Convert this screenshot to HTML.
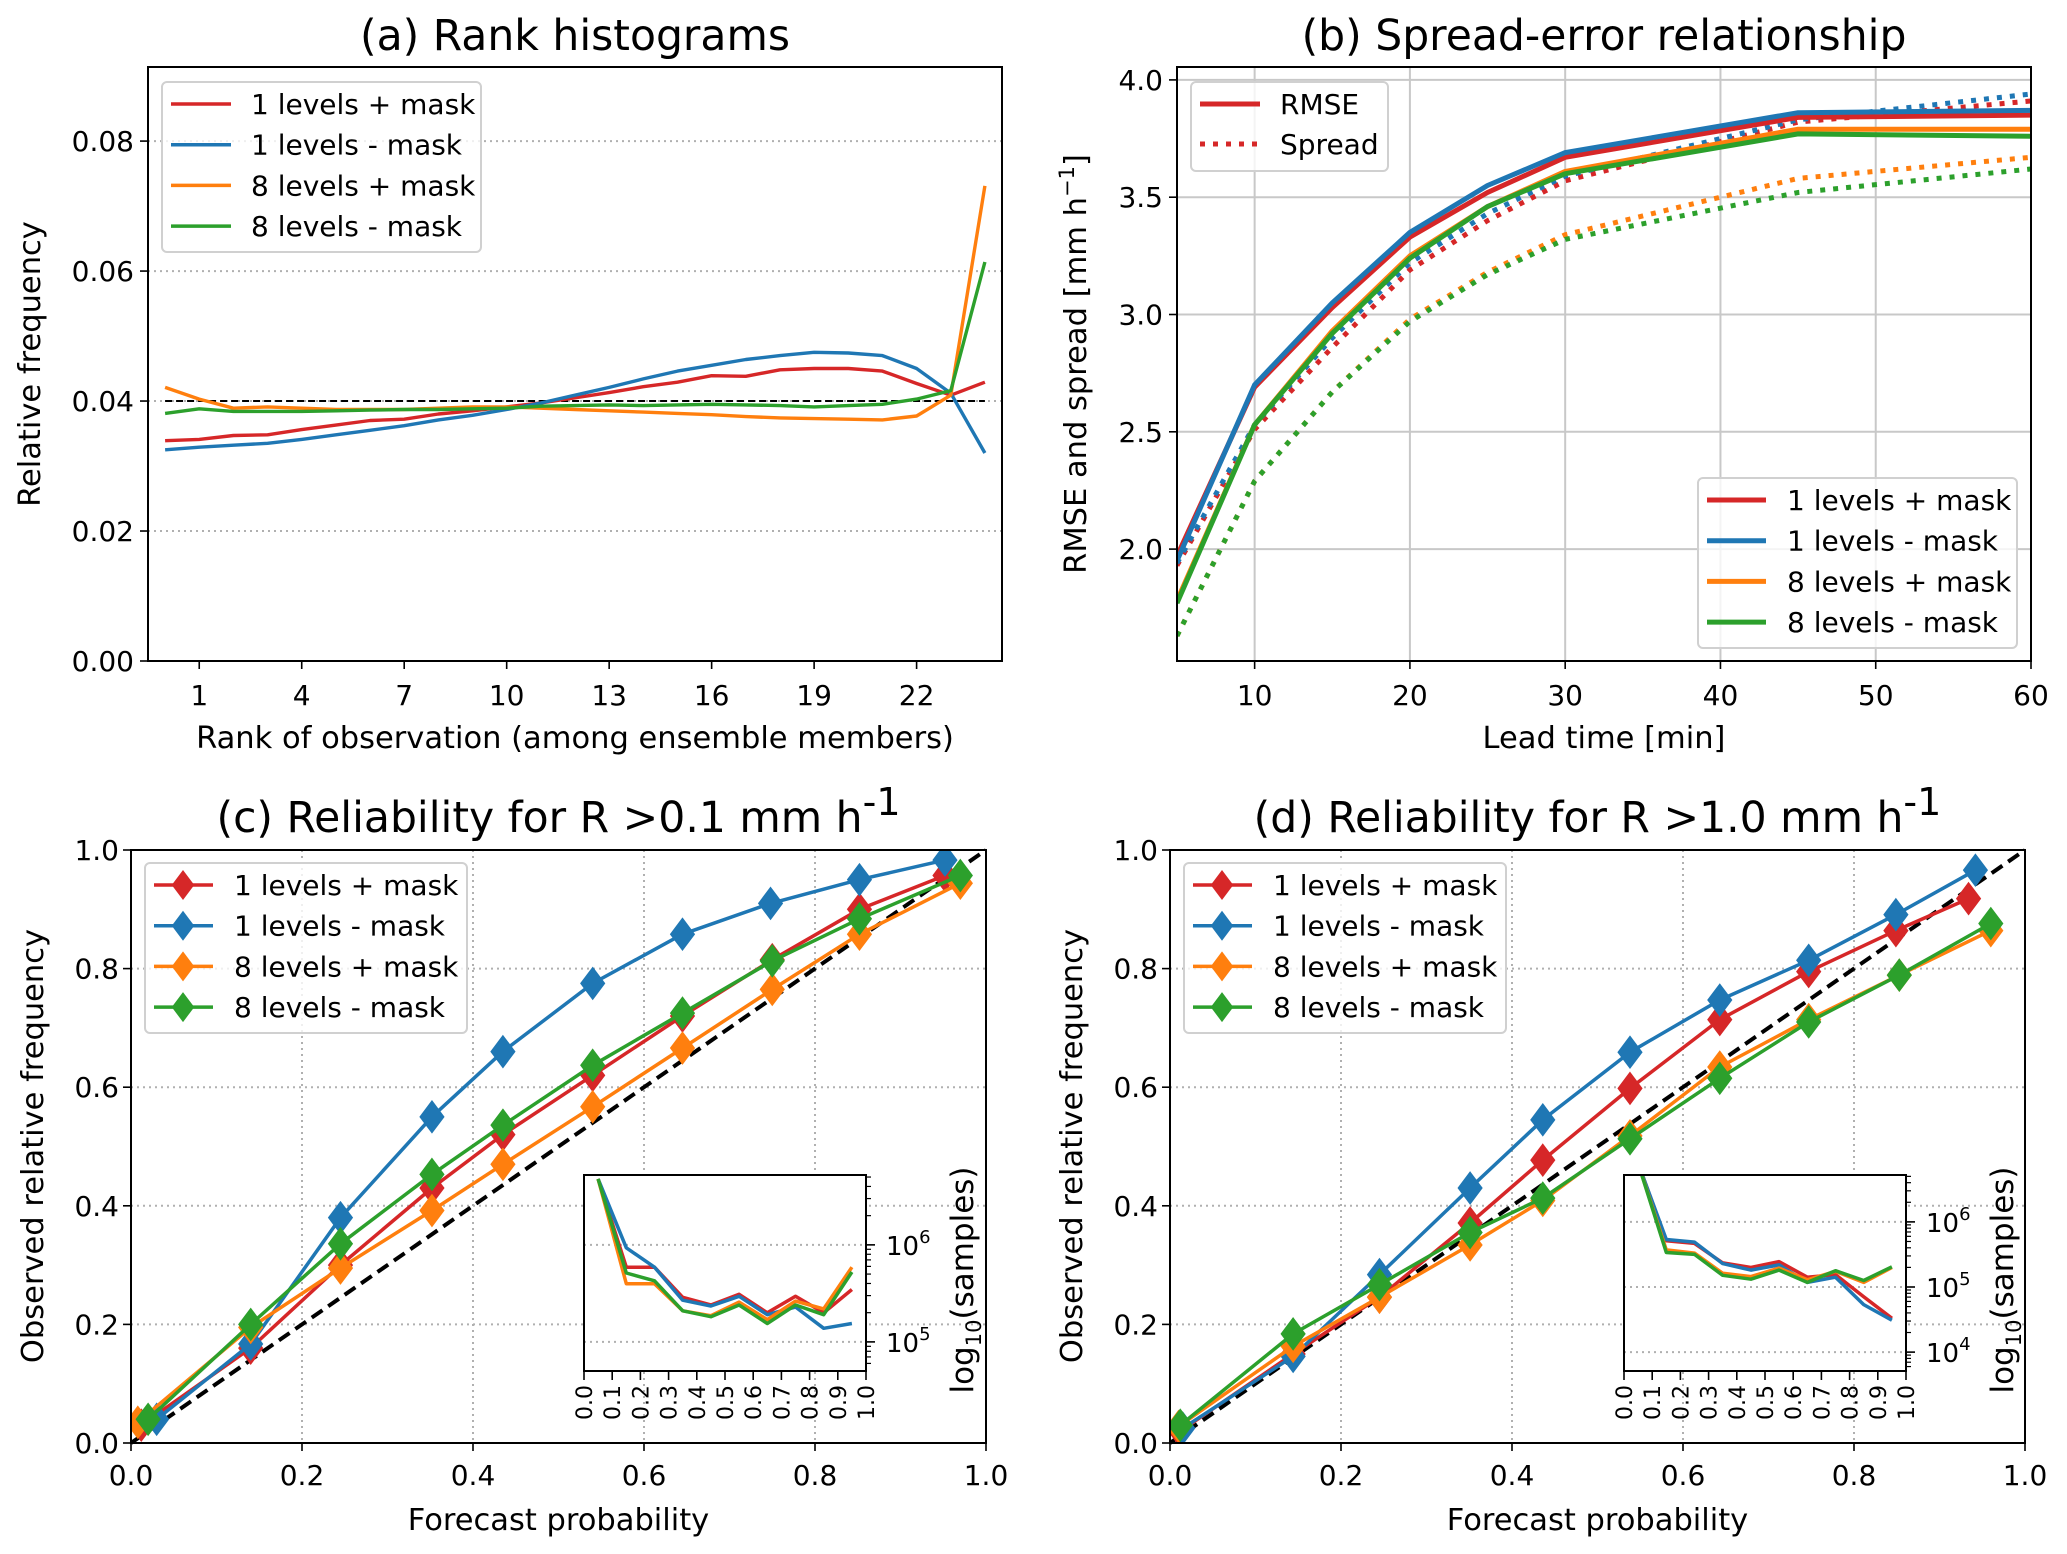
<!DOCTYPE html>
<html><head><meta charset="utf-8"><style>
html,body{margin:0;padding:0;background:#fff;}
svg{display:block;font-family:"DejaVu Sans","Liberation Sans",sans-serif;}
</style></head><body>
<svg id="fig" width="2067" height="1554" viewBox="0 0 2067 1554" xmlns="http://www.w3.org/2000/svg">
<defs>
<clipPath id="clipA"><rect x="148" y="67" width="854" height="594"/></clipPath>
<clipPath id="clipB"><rect x="1177" y="67" width="854" height="594"/></clipPath>
<clipPath id="clipC"><rect x="131" y="850" width="855" height="593"/></clipPath>
<clipPath id="clipD"><rect x="1170" y="850" width="855" height="593"/></clipPath>
<clipPath id="clipCI"><rect x="584" y="1175" width="282" height="196"/></clipPath>
<clipPath id="clipDI"><rect x="1624" y="1175" width="282" height="196"/></clipPath>
</defs>
</svg>
<script>
// ---------- Data ----------
const seriesNames = ["1 levels + mask","1 levels - mask","8 levels + mask","8 levels - mask"];
const colors = ["#d62728","#1f77b4","#ff7f0e","#2ca02c"];

// (a) rank histograms
const ranks = [0,1,2,3,4,5,6,7,8,9,10,11,12,13,14,15,16,17,18,19,20,21,22,23,24];
const rankRed = [0.0339,0.0341,0.0347,0.0348,0.0356,0.0363,0.0370,0.0372,0.0380,0.0385,0.0391,0.0397,0.0405,0.0413,0.0422,0.0429,0.0439,0.0438,0.0448,0.0450,0.0450,0.0446,0.0427,0.0409,0.0429];
const rankBlue = [0.0325,0.0329,0.0332,0.0335,0.0341,0.0348,0.0355,0.0362,0.0371,0.0378,0.0387,0.0397,0.0409,0.0421,0.0434,0.0446,0.0455,0.0464,0.0470,0.0475,0.0474,0.0470,0.0450,0.0412,0.0320];
const rankOrange = [0.0421,0.0403,0.0389,0.0391,0.0389,0.0387,0.0387,0.0387,0.0389,0.0391,0.0391,0.0389,0.0387,0.0385,0.0383,0.0381,0.0379,0.0376,0.0374,0.0373,0.0372,0.0371,0.0377,0.0409,0.0731];
const rankGreen = [0.0381,0.0388,0.0384,0.0384,0.0384,0.0385,0.0386,0.0387,0.0387,0.0388,0.0389,0.0392,0.0393,0.0394,0.0393,0.0394,0.0395,0.0394,0.0393,0.0391,0.0393,0.0395,0.0403,0.0416,0.0614];
const rankYTicks = [0,0.02,0.04,0.06,0.08];
const rankYLabels = ["0.00","0.02","0.04","0.06","0.08"];
const rankXTicks = [1,4,7,10,13,16,19,22];

// (b) spread-error
const leadTimes = [5,10,15,20,25,30,45,60];
const rmseRed = [1.97,2.69,3.03,3.33,3.52,3.67,3.84,3.85];
const rmseBlue = [1.95,2.70,3.05,3.35,3.55,3.69,3.86,3.87];
const rmseOrange = [1.78,2.53,2.93,3.25,3.46,3.61,3.79,3.79];
const rmseGreen = [1.77,2.53,2.92,3.24,3.46,3.60,3.77,3.76];
const spreadRed = [1.93,2.51,2.86,3.19,3.40,3.57,3.82,3.91];
const spreadBlue = [1.94,2.53,2.90,3.22,3.43,3.59,3.83,3.94];
const spreadOrange = [1.63,2.29,2.67,2.98,3.18,3.34,3.58,3.67];
const spreadGreen = [1.63,2.29,2.67,2.97,3.17,3.32,3.52,3.62];
const leadXTicks = [10,20,30,40,50,60];
const rmseYTicks = [2.0,2.5,3.0,3.5,4.0];
const rmseYLabels = ["2.0","2.5","3.0","3.5","4.0"];

// (c) reliability R>0.1
const relCxRed = [0.012,0.14,0.245,0.352,0.435,0.54,0.645,0.75,0.852,0.952];
const relCyRed = [0.03,0.16,0.30,0.43,0.52,0.62,0.72,0.815,0.90,0.957];
const relCxBlue = [0.03,0.14,0.245,0.352,0.435,0.54,0.645,0.748,0.852,0.952];
const relCyBlue = [0.04,0.167,0.38,0.55,0.66,0.775,0.858,0.91,0.95,0.983];
const relCxOrange = [0.008,0.14,0.245,0.352,0.435,0.54,0.645,0.75,0.852,0.97];
const relCyOrange = [0.035,0.195,0.295,0.392,0.47,0.567,0.666,0.765,0.858,0.944];
const relCxGreen = [0.02,0.14,0.245,0.352,0.435,0.54,0.645,0.75,0.852,0.97];
const relCyGreen = [0.04,0.20,0.336,0.453,0.536,0.637,0.725,0.813,0.884,0.957];

// (d) reliability R>1.0
const relDxRed = [0.012,0.144,0.245,0.351,0.436,0.538,0.643,0.747,0.849,0.934];
const relDyRed = [0.02,0.15,0.246,0.371,0.477,0.598,0.714,0.795,0.864,0.918];
const relDxBlue = [0.015,0.144,0.245,0.351,0.436,0.538,0.643,0.747,0.849,0.942];
const relDyBlue = [0.025,0.146,0.284,0.43,0.545,0.659,0.747,0.814,0.891,0.966];
const relDxOrange = [0.01,0.144,0.245,0.351,0.436,0.538,0.643,0.747,0.853,0.96];
const relDyOrange = [0.028,0.163,0.246,0.334,0.409,0.518,0.634,0.714,0.789,0.864];
const relDxGreen = [0.012,0.144,0.245,0.351,0.436,0.538,0.643,0.747,0.853,0.96];
const relDyGreen = [0.03,0.184,0.267,0.355,0.413,0.513,0.615,0.71,0.789,0.876];
const probTicks = [0,0.2,0.4,0.6,0.8,1.0];
const probLabels = ["0.0","0.2","0.4","0.6","0.8","1.0"];

// insets: log10(samples) per probability bin
const binCenters = [0.05,0.15,0.25,0.35,0.45,0.55,0.65,0.75,0.85,0.95];
const sampCRed = [6.68,5.77,5.77,5.46,5.38,5.49,5.30,5.47,5.30,5.54];
const sampCBlue = [6.68,5.97,5.77,5.43,5.37,5.47,5.28,5.36,5.14,5.19];
const sampCOrange = [6.68,5.60,5.60,5.32,5.27,5.41,5.23,5.42,5.34,5.77];
const sampCGreen = [6.68,5.71,5.63,5.32,5.26,5.38,5.19,5.38,5.28,5.72];
const sampDRed = [6.9,5.71,5.67,5.37,5.30,5.39,5.15,5.19,4.85,4.52];
const sampDBlue = [6.9,5.73,5.69,5.36,5.26,5.34,5.07,5.15,4.73,4.49];
const sampDOrange = [6.9,5.57,5.52,5.21,5.16,5.29,5.11,5.24,5.07,5.30];
const sampDGreen = [6.9,5.53,5.50,5.18,5.12,5.26,5.07,5.25,5.10,5.31];
const insetXTicks = [0,0.1,0.2,0.3,0.4,0.5,0.6,0.7,0.8,0.9,1.0];
const insetXLabels = ["0.0","0.1","0.2","0.3","0.4","0.5","0.6","0.7","0.8","0.9","1.0"];
const insetCDecades = [5,6];
const insetDDecades = [4,5,6];

// ---------- helpers ----------
const NS = "http://www.w3.org/2000/svg";
const svg = document.getElementById("fig");
function mk(tag, attrs, parent){
  const el = document.createElementNS(NS, tag);
  for (const k in attrs) el.setAttribute(k, attrs[k]);
  (parent||svg).appendChild(el);
  return el;
}
function txt(str, attrs, parent){
  const t = mk("text", attrs, parent);
  t.textContent = str;
  return t;
}
function lin(d0,d1,p0,p1){ return v => p0 + (v-d0)/(d1-d0)*(p1-p0); }
function pathD(xs, ys, fx, fy){
  return xs.map((x,i)=>(i?"L":"M")+fx(x).toFixed(1)+","+fy(ys[i]).toFixed(1)).join(" ");
}
function diamond(cx, cy, r){
  return "M"+cx+","+(cy-r)+" L"+(cx+r*0.75)+","+cy+" L"+cx+","+(cy+r)+" L"+(cx-r*0.75)+","+cy+" Z";
}
const FS = 28;
const LFS = 30.5;
const TFS = 42.5;

// ---------- Panel A ----------
const A = {x0:148,x1:1002,y0:67,y1:661};
const ax = lin(-0.5,24.5,A.x0,A.x1), ay = lin(0,0.0914,A.y1,A.y0);
const gA = mk("g",{});


rankYTicks.forEach((v,i)=>{
  if (v>0){
    const g = mk("line",{x1:A.x0,x2:A.x1,y1:ay(v),y2:ay(v),stroke:"#b0b0b0","stroke-width":2,"stroke-dasharray":"2,4"},gA);
    
    
  }
  mk("line",{x1:A.x0-8,x2:A.x0,y1:ay(v),y2:ay(v),stroke:"#000","stroke-width":1.6},gA);
  const t = txt(rankYLabels[i],{x:A.x0-14,y:ay(v)+10,"text-anchor":"end","font-size":FS},gA);
  
  
});
rankXTicks.forEach(v=>{
  mk("line",{x1:ax(v),x2:ax(v),y1:A.y1,y2:A.y1+8,stroke:"#000","stroke-width":1.6},gA);
  const t = txt(String(v),{x:ax(v),y:A.y1+44,"text-anchor":"middle","font-size":FS},gA);
  
  
});
const refA = mk("line",{x1:ax(0),x2:ax(24),y1:ay(0.04),y2:ay(0.04),stroke:"#000","stroke-width":2,"stroke-dasharray":"7,4"},gA);


[rankRed,rankBlue,rankOrange,rankGreen].forEach((ys,i)=>{
  const p = mk("path",{d:pathD(ranks,ys,ax,ay),fill:"none",stroke:colors[i],"stroke-width":3.4,"clip-path":"url(#clipA)","stroke-linejoin":"round"},gA);
  
  
});
mk("rect",{x:A.x0,y:A.y0,width:A.x1-A.x0,height:A.y1-A.y0,fill:"none",stroke:"#000","stroke-width":2},gA);
const tA = txt("(a) Rank histograms",{x:575,y:50,"text-anchor":"middle","font-size":TFS},gA);


const xlA = txt("Rank of observation (among ensemble members)",{x:575,y:748,"text-anchor":"middle","font-size":LFS},gA);


const ylA = txt("Relative frequency",{x:0,y:0,"text-anchor":"middle","font-size":LFS,transform:"translate(40,364) rotate(-90)"},gA);


// legend A
const lgA = mk("g",{},gA);


mk("rect",{x:162,y:82,width:319,height:170,rx:5,fill:"#fff","fill-opacity":0.8,stroke:"#d0d0d0","stroke-width":2},lgA);
seriesNames.forEach((n,i)=>{
  const y = 104+i*40.7;
  mk("line",{x1:171,x2:231,y1:y,y2:y,stroke:colors[i],"stroke-width":3.5},lgA);
  const t = txt(n,{x:251,y:y+10,"font-size":FS},lgA);
  
  
});

// ---------- Panel B ----------
const B = {x0:1177,x1:2031,y0:67,y1:661};
const bx = lin(5,60,B.x0,B.x1), by = lin(1.523,4.055,B.y1,B.y0);
const gB = mk("g",{});


rmseYTicks.forEach((v,i)=>{
  const g = mk("line",{x1:B.x0,x2:B.x1,y1:by(v),y2:by(v),stroke:"#c8c8c8","stroke-width":2},gB);
  
  
  mk("line",{x1:B.x0-8,x2:B.x0,y1:by(v),y2:by(v),stroke:"#000","stroke-width":1.6},gB);
  const t = txt(rmseYLabels[i],{x:B.x0-14,y:by(v)+10,"text-anchor":"end","font-size":FS},gB);
  
  
});
leadXTicks.forEach(v=>{
  const g = mk("line",{x1:bx(v),x2:bx(v),y1:B.y0,y2:B.y1,stroke:"#c8c8c8","stroke-width":2},gB);
  
  
  mk("line",{x1:bx(v),x2:bx(v),y1:B.y1,y2:B.y1+8,stroke:"#000","stroke-width":1.6},gB);
  const t = txt(String(v),{x:bx(v),y:B.y1+44,"text-anchor":"middle","font-size":FS},gB);
  
  
});
[spreadRed,spreadBlue,spreadOrange,spreadGreen].forEach((ys,i)=>{
  const p = mk("path",{d:pathD(leadTimes,ys,bx,by),fill:"none",stroke:colors[i],"stroke-width":5,"stroke-dasharray":"5,8","clip-path":"url(#clipB)"},gB);
  
  
});
[rmseRed,rmseBlue,rmseOrange,rmseGreen].forEach((ys,i)=>{
  const p = mk("path",{d:pathD(leadTimes,ys,bx,by),fill:"none",stroke:colors[i],"stroke-width":5,"clip-path":"url(#clipB)","stroke-linejoin":"round"},gB);
  
  
});
mk("rect",{x:B.x0,y:B.y0,width:B.x1-B.x0,height:B.y1-B.y0,fill:"none",stroke:"#000","stroke-width":2},gB);
const tB = txt("(b) Spread-error relationship",{x:1604,y:50,"text-anchor":"middle","font-size":TFS},gB);


const xlB = txt("Lead time [min]",{x:1604,y:748,"text-anchor":"middle","font-size":LFS},gB);


const ylB = mk("text",{"text-anchor":"middle","font-size":LFS,transform:"translate(1086,364) rotate(-90)"},gB);


ylB.appendChild(document.createTextNode("RMSE and spread [mm h"));
const sup = mk("tspan",{dy:-12,"font-size":21},ylB); sup.textContent="\u22121";
const sup2 = mk("tspan",{dy:12},ylB); sup2.textContent="]";
// legend B1
const lgB1 = mk("g",{},gB);


mk("rect",{x:1191,y:82,width:197,height:89,rx:5,fill:"#fff","fill-opacity":0.8,stroke:"#d0d0d0","stroke-width":2},lgB1);
mk("line",{x1:1200,x2:1260,y1:104,y2:104,stroke:colors[0],"stroke-width":5},lgB1);
mk("line",{x1:1200,x2:1262,y1:144,y2:144,stroke:colors[0],"stroke-width":5,"stroke-dasharray":"5,8"},lgB1);
const lb1 = txt("RMSE",{x:1280,y:114,"font-size":FS},lgB1);


const lb2 = txt("Spread",{x:1280,y:154,"font-size":FS},lgB1);


// legend B2
const lgB2 = mk("g",{},gB);


mk("rect",{x:1698,y:478,width:319,height:170,rx:5,fill:"#fff","fill-opacity":0.8,stroke:"#d0d0d0","stroke-width":2},lgB2);
seriesNames.forEach((n,i)=>{
  const y = 500+i*40.7;
  mk("line",{x1:1707,x2:1766,y1:y,y2:y,stroke:colors[i],"stroke-width":5},lgB2);
  const t = txt(n,{x:1787,y:y+10,"font-size":FS},lgB2);
  
  
});

// ---------- Reliability panels ----------
function relPanel(P, clip, xsArr, ysArr, title, label, insetP, insetClip, sampArr, decades, ymin, ymax, pname){
  const fx = lin(0,1,P.x0,P.x1), fy = lin(0,1,P.y1,P.y0);
  const g = mk("g",{});
  
  
  probTicks.forEach((v,i)=>{
    if (v>0 && v<1){
      const gx = mk("line",{x1:fx(v),x2:fx(v),y1:P.y0,y2:P.y1,stroke:"#b0b0b0","stroke-width":2,"stroke-dasharray":"2,4"},g);
      
      
      const gy = mk("line",{x1:P.x0,x2:P.x1,y1:fy(v),y2:fy(v),stroke:"#b0b0b0","stroke-width":2,"stroke-dasharray":"2,4"},g);
      
      
    }
    mk("line",{x1:P.x0-8,x2:P.x0,y1:fy(v),y2:fy(v),stroke:"#000","stroke-width":1.6},g);
    mk("line",{x1:fx(v),x2:fx(v),y1:P.y1,y2:P.y1+8,stroke:"#000","stroke-width":1.6},g);
    const ty = txt(probLabels[i],{x:P.x0-12,y:fy(v)+10,"text-anchor":"end","font-size":FS},g);
    
    
    const tx = txt(probLabels[i],{x:fx(v),y:P.y1+42,"text-anchor":"middle","font-size":FS},g);
    
    
  });
  const diag = mk("line",{x1:fx(0),y1:fy(0),x2:fx(1),y2:fy(1),stroke:"#000","stroke-width":4,"stroke-dasharray":"13,7"},g);
  
  
  xsArr.forEach((xs,i)=>{
    const ys = ysArr[i];
    const sg = mk("g",{"clip-path":"url(#"+clip+")"},g);
    
    
    mk("path",{d:pathD(xs,ys,fx,fy),fill:"none",stroke:colors[i],"stroke-width":3.5,"stroke-linejoin":"round"},sg);
    xs.forEach((x,j)=>{
      const m = mk("path",{d:diamond(fx(x),fy(ys[j]),16),fill:colors[i],stroke:colors[i],"stroke-width":1},sg);
      
      
    });
  });
  mk("rect",{x:P.x0,y:P.y0,width:P.x1-P.x0,height:P.y1-P.y0,fill:"none",stroke:"#000","stroke-width":2},g);
  const cx = (P.x0+P.x1)/2;
  const t = mk("text",{x:cx,y:832,"text-anchor":"middle","font-size":TFS},g);
  
  
  t.appendChild(document.createTextNode(title));
  const ts = mk("tspan",{dy:-17,"font-size":38},t); ts.textContent="-1";
  const xl = txt("Forecast probability",{x:cx,y:1530,"text-anchor":"middle","font-size":LFS},g);
  
  
  const yl = txt("Observed relative frequency",{"text-anchor":"middle","font-size":LFS,transform:"translate("+(P.x0-88)+",1146) rotate(-90)"},g);
  
  
  // legend
  const lg = mk("g",{},g);
  
  
  const lx = P.x0+14;
  mk("rect",{x:lx,y:863,width:322,height:170,rx:5,fill:"#fff","fill-opacity":0.8,stroke:"#d0d0d0","stroke-width":2},lg);
  seriesNames.forEach((n,i)=>{
    const y = 885+i*40.7;
    mk("line",{x1:lx+9,x2:lx+68,y1:y,y2:y,stroke:colors[i],"stroke-width":3.5},lg);
    mk("path",{d:diamond(lx+38,y,15),fill:colors[i]},lg);
    const tt = txt(n,{x:lx+89,y:y+10,"font-size":FS},lg);
    
    
  });
  // inset
  const I = insetP;
  const ix = lin(0,1,I.x0,I.x1), iy = lin(ymin,ymax,I.y1,I.y0);
  const ig = mk("g",{},g);
  
  
  mk("rect",{x:I.x0,y:I.y0,width:I.x1-I.x0,height:I.y1-I.y0,fill:"#fff"},ig);
  decades.forEach(d=>{
    const gl = mk("line",{x1:I.x0,x2:I.x1,y1:iy(d),y2:iy(d),stroke:"#b0b0b0","stroke-width":2,"stroke-dasharray":"2,4"},ig);
    
    
    mk("line",{x1:I.x1,x2:I.x1+9,y1:iy(d),y2:iy(d),stroke:"#000","stroke-width":1.6},ig);
    const tl = mk("text",{x:I.x1+20,y:iy(d)+10,"font-size":26},ig);
    
    
    tl.appendChild(document.createTextNode("10"));
    const sp = mk("tspan",{dy:-12,"font-size":18},tl); sp.textContent=String(d);
  });
  for (let d=Math.floor(ymin); d<Math.ceil(ymax); d++){
    for (let m=2;m<10;m++){
      const v = d+Math.log10(m);
      if (v>ymin && v<ymax) mk("line",{x1:I.x1,x2:I.x1+5,y1:iy(v),y2:iy(v),stroke:"#000","stroke-width":1.2},ig);
    }
  }
  sampArr.forEach((ys,i)=>{
    const p = mk("path",{d:pathD(binCenters,ys,ix,iy),fill:"none",stroke:colors[i],"stroke-width":3.5,"clip-path":"url(#"+insetClip+")","stroke-linejoin":"round"},ig);
    
    
  });
  mk("rect",{x:I.x0,y:I.y0,width:I.x1-I.x0,height:I.y1-I.y0,fill:"none",stroke:"#000","stroke-width":2},ig);
  insetXTicks.forEach((v,i)=>{
    mk("line",{x1:ix(v),x2:ix(v),y1:I.y1,y2:I.y1+9,stroke:"#000","stroke-width":1.6},ig);
    const tl = txt(insetXLabels[i],{"text-anchor":"end","font-size":22,transform:"translate("+(ix(v)+8)+","+(I.y1+14)+") rotate(-90)"},ig);
    
    
  });
  const il = mk("text",{"text-anchor":"middle","font-size":31,transform:"translate("+(I.x1+107)+",1280) rotate(-90)"},ig);
  
  
  il.appendChild(document.createTextNode("log"));
  const s1 = mk("tspan",{dy:8,"font-size":21},il); s1.textContent="10";
  const s2 = mk("tspan",{dy:-8},il); s2.textContent="(samples)";
}
relPanel({x0:131,x1:986,y0:850,y1:1443},"clipC",
  [relCxRed,relCxBlue,relCxOrange,relCxGreen],[relCyRed,relCyBlue,relCyOrange,relCyGreen],
  "(c) Reliability for R >0.1 mm h",null,
  {x0:584,x1:866,y0:1175,y1:1371},"clipCI",[sampCRed,sampCBlue,sampCOrange,sampCGreen],insetCDecades,4.70,6.72,"panel-c-reliability");
relPanel({x0:1170,x1:2025,y0:850,y1:1443},"clipD",
  [relDxRed,relDxBlue,relDxOrange,relDxGreen],[relDyRed,relDyBlue,relDyOrange,relDyGreen],
  "(d) Reliability for R >1.0 mm h",null,
  {x0:1624,x1:1906,y0:1175,y1:1371},"clipDI",[sampDRed,sampDBlue,sampDOrange,sampDGreen],insetDDecades,3.71,6.72,"panel-d-reliability");
</script>
</body></html>
